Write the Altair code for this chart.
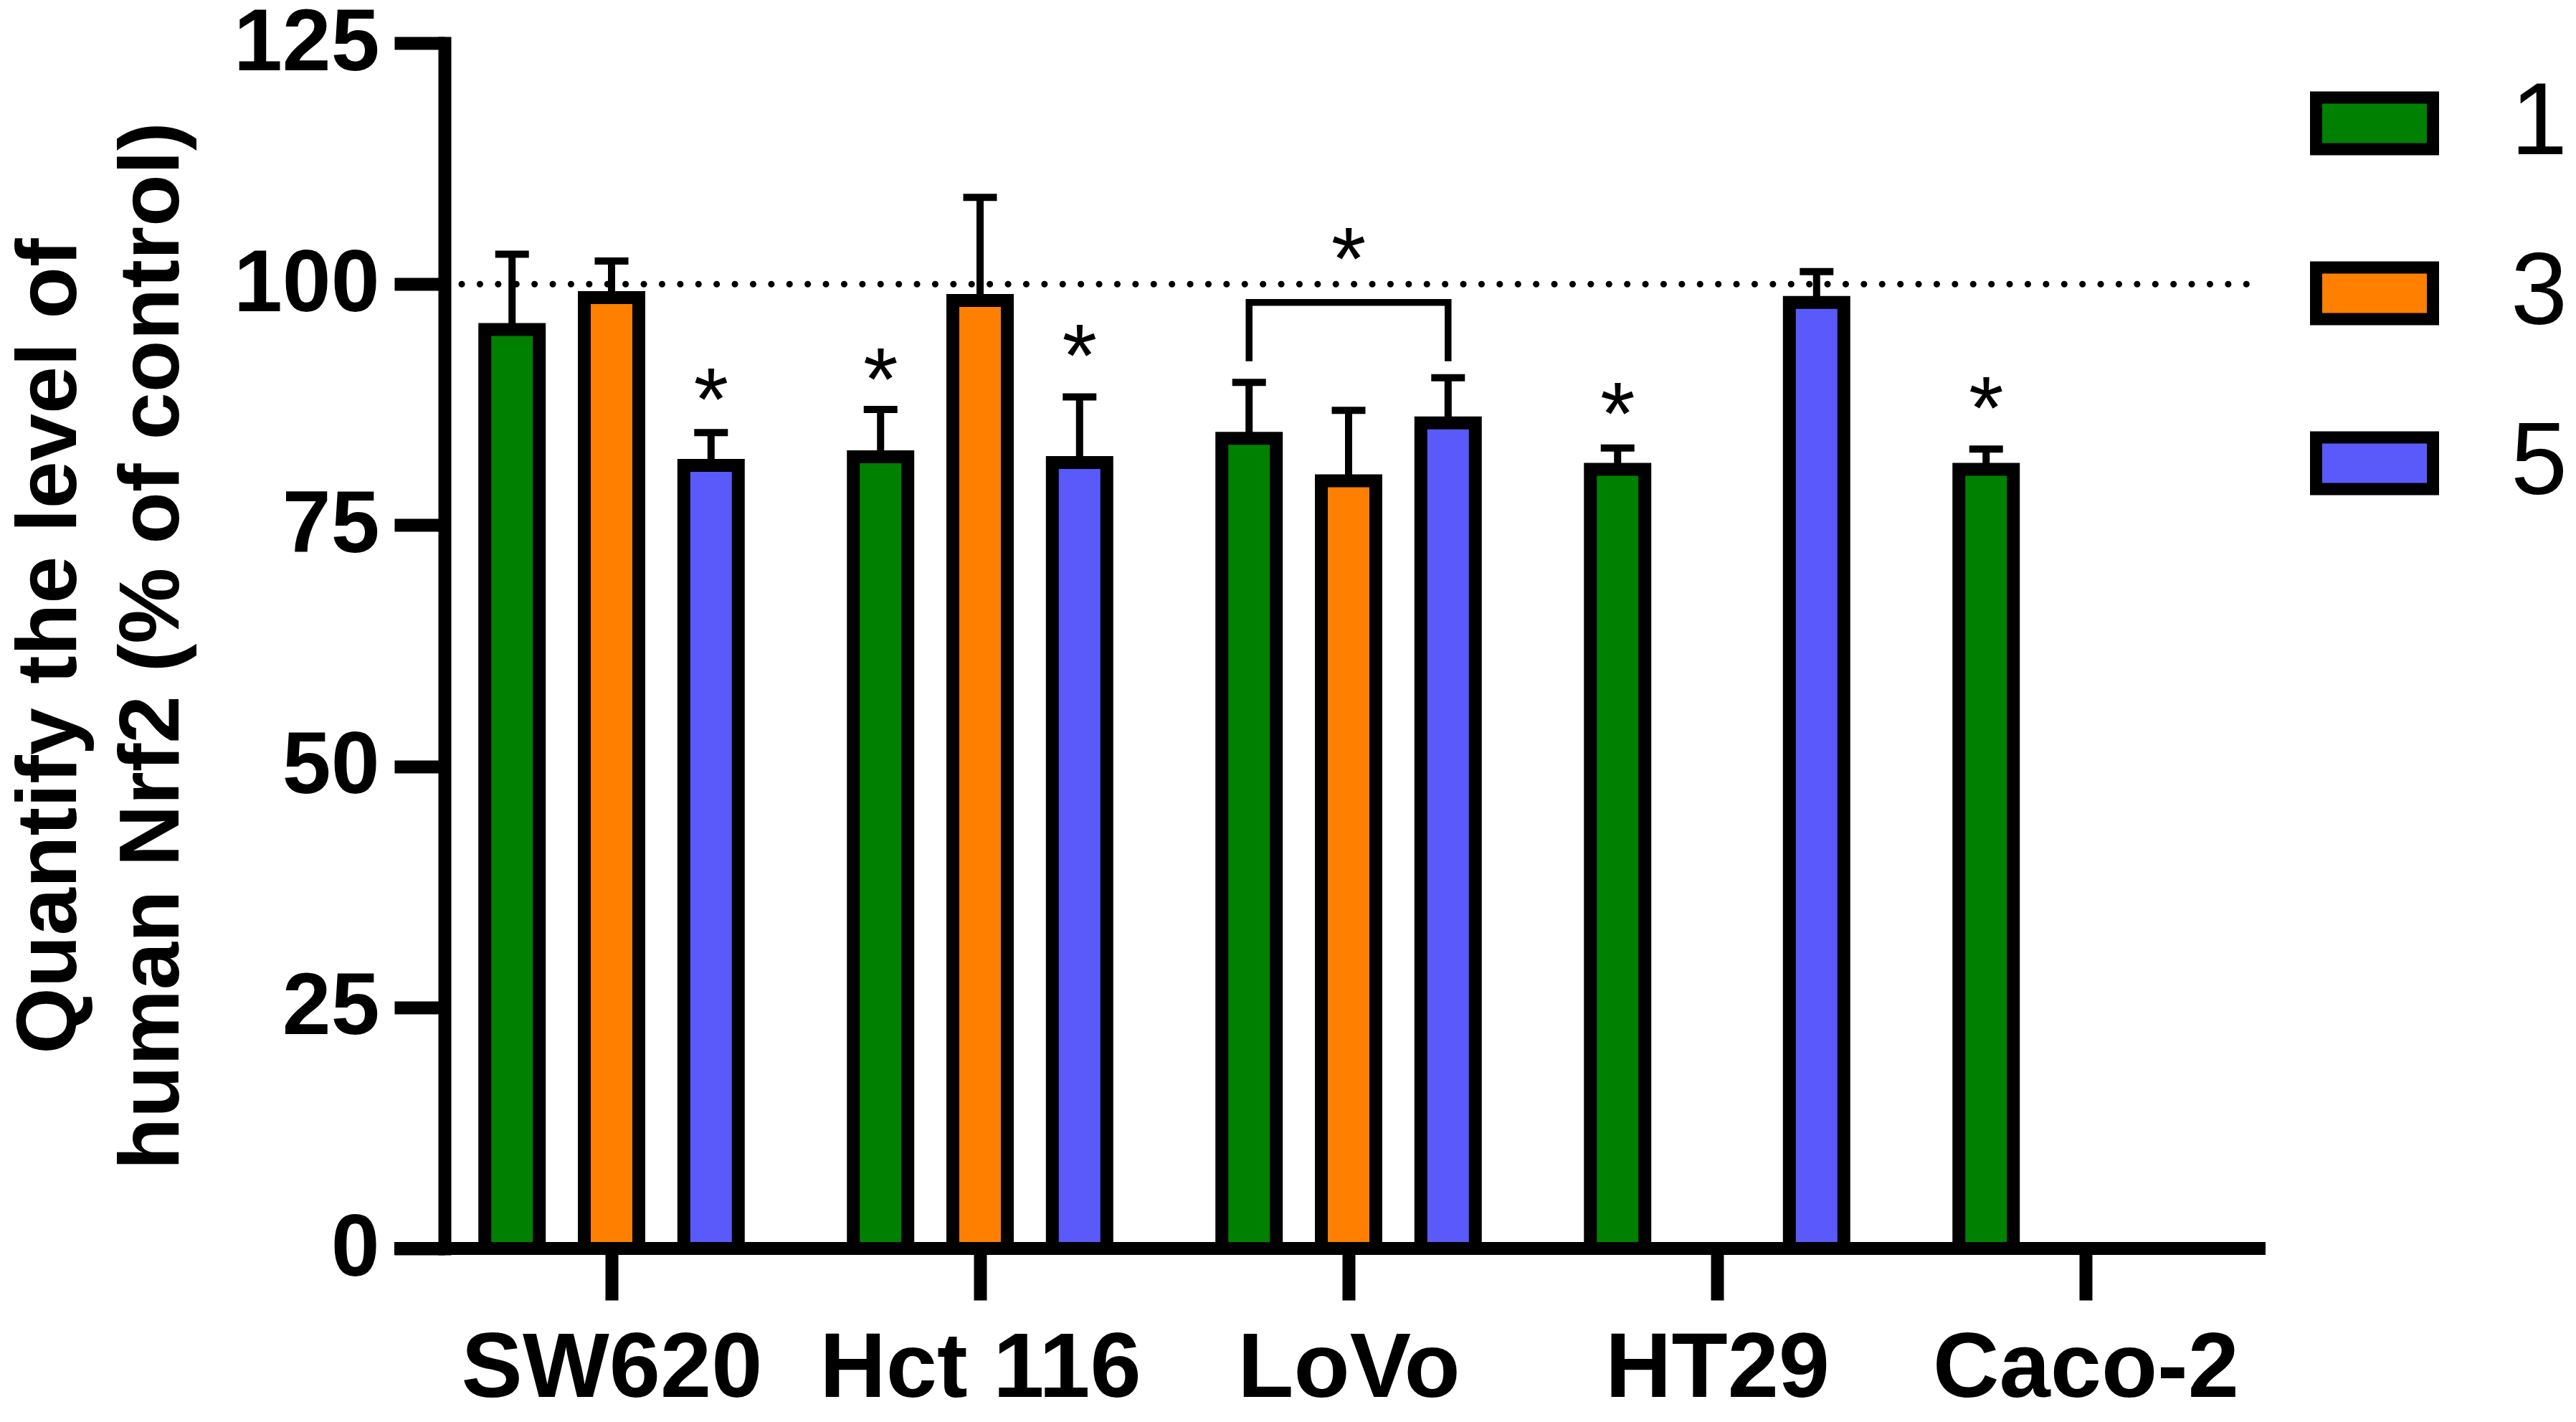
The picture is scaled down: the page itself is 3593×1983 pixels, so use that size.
import altair as alt
import pandas as pd

# ---------------- data ----------------
cells = ["SW620", "Hct 116", "LoVo", "HT29", "Caco-2"]
groups = ["1", "3", "5"]
colors = ["#008000", "#FF8000", "#5A5AFA"]

mean_1 = [95.3, 82.1, 84.0, 80.8, 80.8]
sd_1 = [7.8, 4.9, 5.8, 2.2, 2.1]
mean_3 = [98.6, 98.3, 79.6, None, None]
sd_3 = [3.8, 10.7, 7.3, None, None]
mean_5 = [81.2, 81.5, 85.6, 98.1, None]
sd_5 = [3.4, 6.8, 4.7, 3.2, None]

# heights (in % of control) of the significance stars above single bars
star_1 = [None, 92.3, None, 88.7, 89.3]
star_3 = [None, None, None, None, None]
star_5 = [90.2, 94.7, None, None, None]

# bracket comparing two groups within one cell line
bracket_cell = "LoVo"
bracket_groups = ["1", "5"]
bracket_top = 98.1
bracket_bottom = 92.0
bracket_star = 104.8

control_level = 100
y_ticks = [0, 25, 50, 75, 100, 125]
y_title = ["Quantify the level of", "human Nrf2 (% of control)"]

# ---------------- layout / style ----------------
W, H = 2540, 1681
FONT = "Liberation Sans"
group_offset = {"1": -0.27, "3": 0.0, "5": 0.27}
bar_half = 0.0739
cap_half = 0.0457
x_domain = [-0.4533, 4.4883]

means = {"1": mean_1, "3": mean_3, "5": mean_5}
sds = {"1": sd_1, "3": sd_3, "5": sd_5}
stars = {"1": star_1, "3": star_3, "5": star_5}

rows = []
for i, c in enumerate(cells):
    for g in groups:
        m = means[g][i]
        if m is None:
            continue
        pos = i + group_offset[g]
        rows.append({
            "cell": c, "group": g, "pos": pos,
            "left": pos - bar_half, "right": pos + bar_half,
            "mean": m, "top": m + sds[g][i], "zero": 0,
            "cap_l": pos - cap_half, "cap_r": pos + cap_half,
            "star": stars[g][i],
        })
df = pd.DataFrame(rows)
df_star = df[df["star"].notna()].copy()

ci = cells.index(bracket_cell)
p1 = ci + group_offset[bracket_groups[0]]
p2 = ci + group_offset[bracket_groups[1]]
df_bracket = pd.DataFrame({
    "x": [p1, p1, p2, p2],
    "y": [bracket_bottom, bracket_top, bracket_top, bracket_bottom],
    "o": [0, 1, 2, 3],
})
df_bstar = pd.DataFrame({"x": [(p1 + p2) / 2], "y": [bracket_star]})
df_ref = pd.DataFrame({"y": [control_level]})
df_zero = pd.DataFrame({"y": [0]})

label_expr = "[" + ",".join("'%s'" % c for c in cells) + "][datum.value]"

xscale = alt.Scale(domain=x_domain, nice=False, zero=False)
yscale = alt.Scale(domain=[0, 125], nice=False)

x_axis = alt.Axis(
    values=list(range(len(cells))), labelExpr=label_expr, title=None,
    domain=False, grid=False, ticks=True, tickSize=72, tickWidth=18,
    tickColor="black", labelFont=FONT, labelFontSize=128,
    labelFontWeight="bold", labelColor="black", labelPadding=33,
    labelAngle=0, labelAlign="center", labelBaseline="top",
    labelFlush=False, labelOverlap=False, labelLimit=0,
)
y_axis = alt.Axis(
    values=y_ticks, grid=False, domain=True, domainWidth=18,
    domainColor="black", domainCap="square", ticks=True, tickSize=70,
    tickWidth=18, tickColor="black", labelFont=FONT, labelFontSize=122,
    labelFontWeight="bold", labelColor="black", labelPadding=21,
    labelFlush=False, labelLimit=0, labelOverlap=False,
    title=y_title, titleFont=FONT, titleFontSize=119,
    titleFontWeight="bold", titleColor="black", titleLineHeight=143,
    titleX=-515, titleY=H / 2, titleAngle=270, titleAlign="center",
    titleBaseline="alphabetic", titleLimit=0,
)

legend = alt.Legend(
    orient="none", legendX=2602, legendY=22, title=None,
    symbolType="M-1,-0.442H1V0.442H-1Z", symbolSize=26569,
    symbolStrokeWidth=17, symbolStrokeColor="black", symbolOpacity=1,
    labelFont=FONT, labelFontSize=142, labelFontWeight="normal",
    labelColor="black", labelOffset=100, rowPadding=76, padding=0,
    labelLimit=0,
)

base = alt.Chart(df)

bars = base.mark_bar(stroke="black", strokeWidth=18, opacity=1).encode(
    x=alt.X("left:Q", scale=xscale, axis=x_axis),
    x2="right:Q",
    y=alt.Y("mean:Q", scale=yscale, axis=y_axis),
    y2="zero:Q",
    color=alt.Color("group:N", scale=alt.Scale(domain=groups, range=colors),
                    legend=legend),
)

whisker = base.mark_rule(color="black", strokeWidth=10).encode(
    x="pos:Q", y="mean:Q", y2="top:Q"
)
cap = base.mark_rule(color="black", strokeWidth=10).encode(
    x="cap_l:Q", x2="cap_r:Q", y="top:Q"
)

star_txt = alt.Chart(df_star).mark_text(
    text="*", font=FONT, fontSize=125, baseline="alphabetic", dy=72,
    color="black"
).encode(x="pos:Q", y="star:Q")

bracket = alt.Chart(df_bracket).mark_line(
    color="black", strokeWidth=9.5, strokeJoin="miter", strokeCap="butt"
).encode(x="x:Q", y="y:Q", order="o:Q")

bstar = alt.Chart(df_bstar).mark_text(
    text="*", font=FONT, fontSize=125, baseline="alphabetic", dy=72,
    color="black"
).encode(x="x:Q", y="y:Q")

ref = alt.Chart(df_ref).mark_rule(
    color="black", strokeWidth=9, strokeCap="round", strokeDash=[0.1, 25.3]
).encode(y="y:Q", x=alt.value(24), x2=alt.value(2515))

xline = alt.Chart(df_zero).mark_rule(color="black", strokeWidth=18).encode(
    y="y:Q", x=alt.value(-70), x2=alt.value(W)
)

chart = alt.layer(bars, whisker, cap, star_txt, bracket, bstar, ref, xline).properties(
    width=W, height=H,
    autosize=alt.AutoSizeParams(type="none"),
    padding={"left": 612, "top": 52, "right": 425, "bottom": 234},
    background="white",
).configure_view(stroke=None)

chart.save("out.html", embed_options={"renderer": "svg", "actions": False})
